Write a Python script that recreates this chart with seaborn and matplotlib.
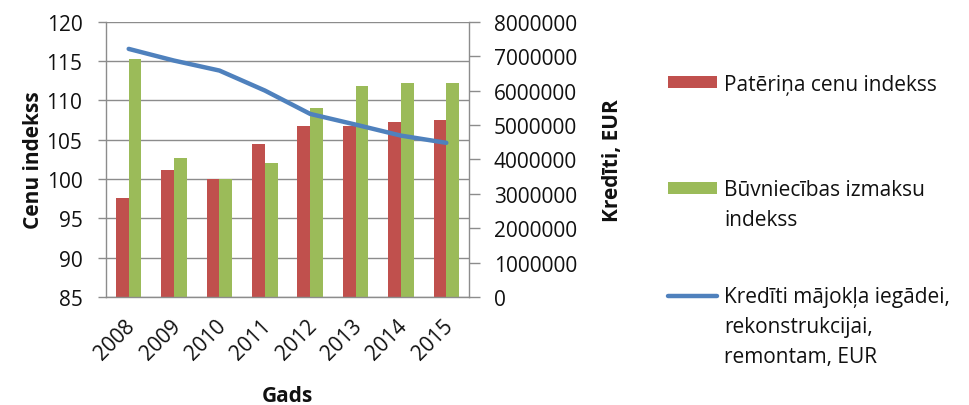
import numpy as np
import pandas as pd
import matplotlib
matplotlib.use("Agg")
import matplotlib.pyplot as plt
from matplotlib.patches import Patch
from matplotlib.lines import Line2D
from matplotlib.transforms import ScaledTranslation
import seaborn as sns

# Data
years = ["2008", "2009", "2010", "2011", "2012", "2013", "2014", "2015"]
cpi = [97.6, 101.1, 100.0, 104.4, 106.7, 106.7, 107.3, 107.5]
construction = [115.3, 102.7, 100.0, 102.0, 109.0, 111.8, 112.2, 112.2]
loans = [7210000, 6870000, 6580000, 6000000, 5320000, 5010000, 4690000, 4480000]

label_cpi = "Patēriņa cenu indekss"
label_con = ["Būvniecības izmaksu", "indekss"]
label_loan = ["Kredīti mājokļa iegādei,", "rekonstrukcijai,", "remontam, EUR"]

RED = "#C0504D"
GREEN = "#9BBB59"
BLUE = "#4F81BD"
GRID = "#8C8C8C"
INK = "#111111"

sns.set_theme(style="white")
plt.rcParams["font.family"] = ["Open Sans", "DejaVu Sans"]
plt.rcParams["text.color"] = INK
FS = 15

W, H = 970, 406

bars = pd.DataFrame({
    "Gads": years * 2,
    "value": cpi + construction,
    "series": [label_cpi] * len(years) + [label_con[0]] * len(years),
})
line = pd.DataFrame({"pos": np.arange(len(years)), "loans": loans})

fig = plt.figure(figsize=(W / 100, H / 100), dpi=100)
ax = fig.add_axes([106 / W, 1 - 298 / H, (469 - 106) / W, (298 - 22.7) / H])

sns.barplot(data=bars, x="Gads", y="value", hue="series",
            palette=[RED, GREEN], saturation=1, width=0.56,
            linewidth=0, ax=ax, legend=False, zorder=2)
ax.set_ylim(85, 120)
ax.set_yticks(np.arange(85, 121, 5))
ax.set_xlim(-0.5, len(years) - 0.5)
ax.grid(axis="y", color=GRID, linewidth=1.0, zorder=0)
ax.set_axisbelow(True)

# category boundaries carry the ticks, labels sit at the centres
ax.set_xticks(np.arange(-0.5, len(years)), labels=[""] * (len(years) + 1))
ax.set_xticks(np.arange(len(years)), labels=years, minor=True)
ax.tick_params(axis="x", which="major", length=8, width=1, color=GRID, direction="out")
ax.tick_params(axis="x", which="minor", length=0, pad=13, labelsize=FS, labelcolor=INK)
shift = ScaledTranslation(-4 / 100, 0, fig.dpi_scale_trans)
for t in ax.get_xticklabels(minor=True):
    t.set_rotation(45)
    t.set_ha("right")
    t.set_va("top")
    t.set_rotation_mode("anchor")
    t.set_transform(t.get_transform() + shift)
ax.tick_params(axis="y", length=6, width=1, color=GRID, direction="out",
               labelsize=FS, labelcolor=INK, pad=11, left=True)

for side in ["top", "right"]:
    ax.spines[side].set_visible(False)
for side in ["left", "bottom"]:
    ax.spines[side].set_color(GRID)
    ax.spines[side].set_linewidth(1.0)

ax.set_xlabel("Gads", fontsize=FS, fontweight="bold", labelpad=15, color=INK)
ax.set_ylabel("Cenu indekss", fontsize=FS, fontweight="bold", labelpad=2, color=INK)

ax2 = ax.twinx()
sns.lineplot(data=line, x="pos", y="loans", color=BLUE, linewidth=3.2,
             ax=ax2, legend=False, zorder=3)
ax2.set_ylim(0, 8000000)
ax2.set_yticks(np.arange(0, 8000001, 1000000))
ax2.yaxis.set_major_formatter(matplotlib.ticker.FuncFormatter(lambda v, p: f"{int(v)}"))
ax2.tick_params(axis="y", length=8, width=1, color=GRID, direction="out",
                labelsize=FS, labelcolor=INK, pad=10, right=True)
ax2.set_ylabel("Kredīti, EUR", fontsize=FS, fontweight="bold", labelpad=18, color=INK)
for side in ["top", "left", "bottom"]:
    ax2.spines[side].set_visible(False)
ax2.spines["right"].set_color(GRID)
ax2.spines["right"].set_linewidth(1.0)
ax2.grid(False)

# Legend: one entry per block, handle beside the first line of its label
em = FS * 100 / 72
handles = [
    Patch(facecolor=RED, edgecolor="none"),
    Patch(facecolor=GREEN, edgecolor="none"),
    Line2D([], [], color=BLUE, linewidth=3.2),
]
blocks = [[label_cpi], label_con, label_loan]
first_y = [82, 188, 295]
line_gap = 30
handle_x, text_x = 668, 724
for h, lines_, y0 in zip(handles, blocks, first_y):
    leg = fig.legend([h], [lines_[0]], loc="center left",
                     bbox_to_anchor=(handle_x / W, 1 - (y0 + 3) / H),
                     frameon=False, fontsize=FS, handlelength=49 / em,
                     handleheight=0.55, handletextpad=7 / em, borderpad=0,
                     borderaxespad=0, labelcolor=INK)
    for k, extra in enumerate(lines_[1:], start=1):
        fig.text(text_x / W, 1 - (y0 + k * line_gap) / H, extra,
                 fontsize=FS, ha="left", va="center_baseline", color=INK)

fig.savefig("out.png", dpi=100)
